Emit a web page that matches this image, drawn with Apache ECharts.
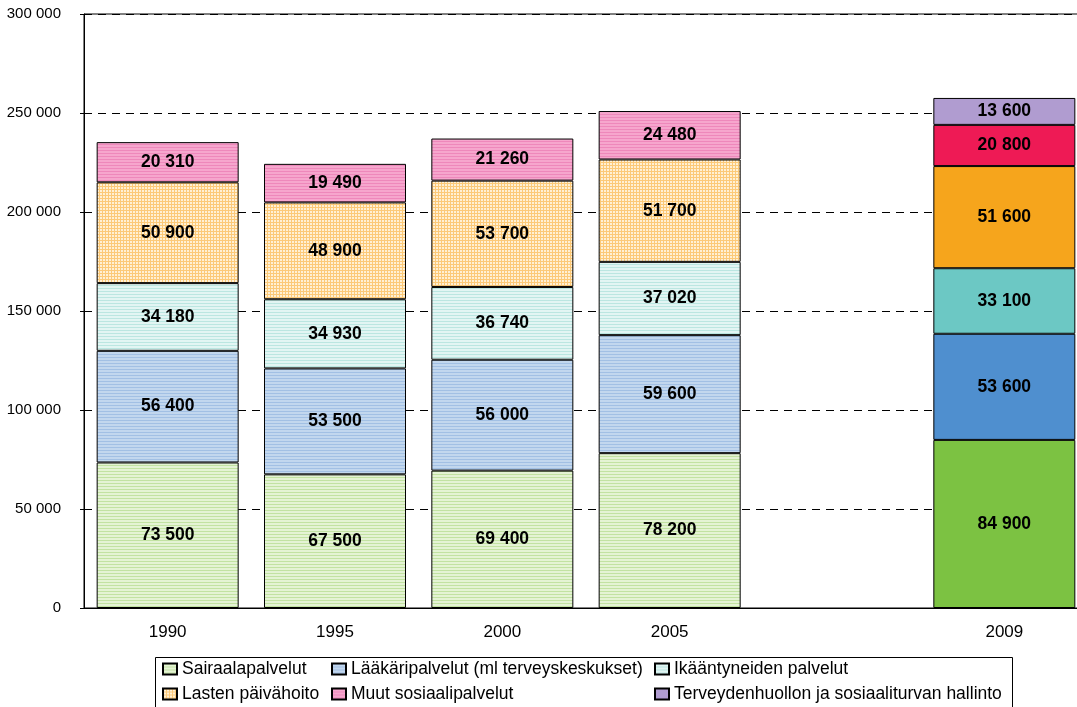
<!DOCTYPE html>
<html>
<head>
<meta charset="utf-8">
<script src="https://cdn.jsdelivr.net/npm/echarts@6/dist/echarts.min.js"></script>
<style>html,body{margin:0;padding:0;background:#fff;overflow:hidden;width:1077px;height:707px;}#c{width:1088px;height:707px;}</style>
</head>
<body>
<div id="c"></div>
<script>
const categories = ['1990', '1995', '2000', '2005', '', '2009'];
const seriesNames = ['Sairaalapalvelut', 'Lääkäripalvelut (ml terveyskeskukset)', 'Ikääntyneiden palvelut', 'Lasten päivähoito', 'Muut sosiaalipalvelut', 'Terveydenhuollon ja sosiaaliturvan hallinto'];
const sairaala = [73500, 67500, 69400, 78200, null, 84900];
const laakari = [56400, 53500, 56000, 59600, null, 53600];
const ikaantyneet = [34180, 34930, 36740, 37020, null, 33100];
const lasten = [50900, 48900, 53700, 51700, null, 51600];
const muut = [20310, 19490, 21260, 24480, null, 20800];
const hallinto = [null, null, null, null, null, 13600];
const yTicks = [0, 50000, 100000, 150000, 200000, 250000, 300000];

function linePattern(bg, fg) {
  const c = document.createElement('canvas');
  c.width = 4; c.height = 3;
  const g = c.getContext('2d');
  g.fillStyle = bg; g.fillRect(0, 0, 4, 3);
  g.fillStyle = fg; g.fillRect(0, 0, 4, 1);
  return { image: c, repeat: 'repeat' };
}
function gridPattern(bg, fg) {
  const c = document.createElement('canvas');
  c.width = 3; c.height = 3;
  const g = c.getContext('2d');
  g.fillStyle = bg; g.fillRect(0, 0, 3, 3);
  g.fillStyle = fg; g.fillRect(0, 0, 3, 1); g.fillRect(0, 0, 1, 3);
  return { image: c, repeat: 'repeat' };
}
const patterns = [
  linePattern('#e4f3d4', '#c2e2a2'),
  linePattern('#c2d7ee', '#a2c0e4'),
  linePattern('#e2f5f3', '#bbe6e1'),
  gridPattern('#fff0d4', '#fcc978'),
  linePattern('#f6a6cd', '#ee88bb'),
  '#b09cd0'
];
const solids = ['#7cc242', '#4f8fcf', '#6cc8c4', '#f6a51c', '#ee1a55', '#b09cd0'];
const values = [sairaala, laakari, ikaantyneet, lasten, muut, hallinto];
const FONT = 'Liberation Sans, Arial, sans-serif';

function fmt(v) {
  return String(v).replace(/\B(?=(\d{3})+(?!\d))/g, ' ');
}

const series = values.map((arr, i) => ({
  name: seriesNames[i],
  type: 'bar',
  stack: 'total',
  barWidth: 142,
  itemStyle: { color: patterns[i], borderColor: '#000', borderWidth: 1 },
  label: {
    show: true, position: 'inside', color: '#000',
    fontFamily: FONT, fontWeight: 'bold', fontSize: 17.5,
    formatter: p => fmt(p.value)
  },
  data: arr.map((v, j) => categories[j] === '2009' && v != null
    ? { value: v, itemStyle: { color: solids[i] } } : v)
}));

const legendPos = [
  { left: 162, top: 660 }, { left: 331, top: 660 }, { left: 654, top: 660 },
  { left: 162, top: 685 }, { left: 331, top: 685 }, { left: 654, top: 685 }
];
const legends = seriesNames.map((n, i) => ({
  data: [n], left: legendPos[i].left, top: legendPos[i].top, padding: 0,
  itemWidth: 14, itemHeight: 11, icon: 'rect', selectedMode: false,
  textStyle: { fontFamily: FONT, fontSize: 17.5, color: '#000' }
}));

const chart = echarts.init(document.getElementById('c'), null, { renderer: 'canvas' });
chart.setOption({
  animation: false,
  backgroundColor: '#fff',
  grid: { left: 84, top: 14, right: 0, height: 594, show: true, borderColor: '#000', borderWidth: 1 },
  legend: legends,
  graphic: [{ type: 'rect', shape: { x: 155.5, y: 657.5, width: 857, height: 60 }, style: { fill: 'none', stroke: '#000', lineWidth: 1 }, z: -1 }],
  xAxis: {
    type: 'category', data: categories,
    axisLine: { lineStyle: { color: '#000' } },
    axisTick: { show: false },
    axisLabel: { color: '#000', fontFamily: FONT, fontSize: 17, margin: 16 }
  },
  yAxis: {
    type: 'value', min: yTicks[0], max: yTicks[yTicks.length - 1], interval: yTicks[1] - yTicks[0],
    axisLine: { show: true, lineStyle: { color: '#000' } },
    axisTick: { show: true, length: 4, lineStyle: { color: '#000' } },
    splitLine: { lineStyle: { color: '#000', type: [8, 6], width: 1 } },
    axisLabel: { color: '#000', fontFamily: FONT, fontSize: 15, margin: 23, formatter: v => fmt(v) }
  },
  series: series
});
</script>
</body>
</html>
